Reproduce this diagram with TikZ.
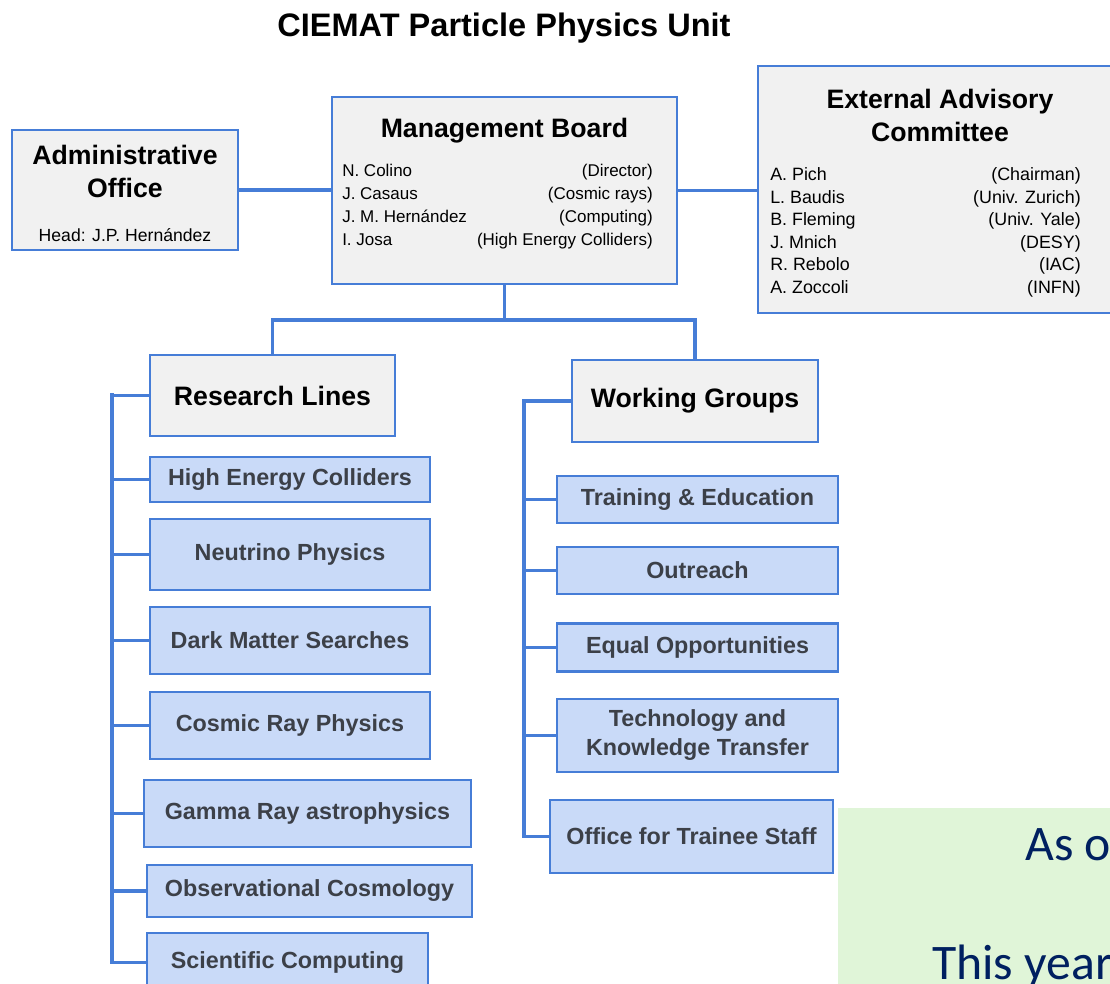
\documentclass[tikz,border=0pt]{standalone}
\usepackage{fontspec}
\setmainfont{Liberation Sans}
\newfontfamily\slidefont{Carlito}

\definecolor{orgblue}{RGB}{70,125,215}
\definecolor{boxgray}{RGB}{241,241,241}
\definecolor{unitblue}{RGB}{201,218,248}
\definecolor{unittext}{RGB}{60,64,72}
\definecolor{notegreen}{RGB}{224,245,216}
\definecolor{notetext}{RGB}{0,32,96}

\begin{document}
\begin{tikzpicture}[x=0.75pt, y=-0.75pt,
    boxsize/.style 2 args={minimum width=#1*0.75pt, minimum height=#2*0.75pt},
    panel/.style={draw=orgblue, line width=1.6pt, fill=boxgray, inner sep=0pt},
    unit/.style={draw=orgblue, line width=1.6pt, fill=unitblue, inner sep=0pt,
        text=unittext, align=center, font=\fontsize{17.5}{21.75}\selectfont\bfseries},
    heading/.style={align=center, font=\fontsize{20}{24.75}\selectfont\bfseries},
    member/.style={inner sep=0pt, font=\fontsize{12.75}{17}\selectfont},
    link/.style={draw=orgblue, line width=2.4pt}]
    \useasboundingbox (0,0) rectangle (1110,984);
    \clip (0,0) rectangle (1110,984);

    \node[font=\fontsize{24.4}{28}\selectfont\bfseries] (title) at (504,28) {CIEMAT Particle Physics Unit};

    % top row
    \node[panel, boxsize={226}{120}] (admin) at (125,190) {};
    \node[heading] (admintitle) at (125,171.5) {Administrative\\Office};
    \node[member, font=\fontsize{13.2}{17}\selectfont] (adminhead) at (125,235) {Head: J.P. Hernández};

    \node[panel, boxsize={345}{187}] (board) at (504.5,190.5) {};
    \node[heading] (boardtitle) at (504.5,130.5) {Management Board};
    \foreach \who/\role [count=\i] in {N. Colino/Director, J. Casaus/Cosmic rays,
        J. M. Hernández/Computing, I. Josa/High Energy Colliders} {
        \node[member, anchor=base west] (bname\i) at (342,{177+22.7*(\i-1)}) {\who};
        \node[member, anchor=base east] (brole\i) at (653,{177+22.7*(\i-1)}) {(\role)};
    }

    \node[panel, boxsize={370}{247}] (advisory) at (943,189.5) {};
    \node[heading] (advisorytitle) at (940,115.5) {External Advisory\\Committee};
    \foreach \who/\role [count=\i] in {A. Pich/Chairman, L. Baudis/Univ. Zurich,
        B. Fleming/Univ. Yale, J. Mnich/DESY, R. Rebolo/IAC, A. Zoccoli/INFN} {
        \node[member, font=\fontsize{13.4}{17}\selectfont, anchor=base west] (aname\i) at (770,{180.5+22.6*(\i-1)}) {\who};
        \node[member, font=\fontsize{13.4}{17}\selectfont, anchor=base east] (arole\i) at (1081,{180.5+22.6*(\i-1)}) {(\role)};
    }

    \draw[link] (admin.east) -- (admin.east -| board.west);
    \draw[link] (board.east) -- (board.east -| advisory.west);

    % second row
    \node[panel, heading, boxsize={245}{81}] (research) at (272.5,395.5) {Research Lines};
    \node[panel, heading, boxsize={246}{82}] (groups) at (695,401) {Working Groups};

    \coordinate (split) at (504.5,320);
    \draw[link] (board.south) -- (split);
    \draw[link] (split) -| (research.north);
    \draw[link] (split) -| (groups.north);

    % research lines
    \foreach \id/\txt/\cx/\cy/\w/\h in {
        hec/High Energy Colliders/290/479.5/280/45,
        neutrino/Neutrino Physics/290/554.5/280/71,
        dark/Dark Matter Searches/290/640.5/280/67,
        cosmic/Cosmic Ray Physics/290/725.5/280/67,
        gamma/Gamma Ray astrophysics/307.5/813.5/327/67,
        cosmology/Observational Cosmology/309.5/891/325/52,
        computing/Scientific Computing/287.5/962.5/281/59}
        \node[unit, boxsize={\w}{\h}] (\id) at (\cx,\cy) {\txt};

    \coordinate (rlspine) at (112,395.5);
    \draw[link] (research.west) -- (rlspine);
    \draw[link, line width=3.6pt, line cap=rect] (rlspine) -- (rlspine |- gamma.west);
    \draw[link] (rlspine |- gamma.west) -- (rlspine |- computing.west) -- (computing.west);
    \foreach \c in {hec,neutrino,dark,cosmic,gamma,cosmology}
        \draw[link] (rlspine |- \c.west) -- (\c.west);

    % working groups
    \foreach \id/\txt/\cx/\cy/\w/\h in {
        training/Training \& Education/697.5/499.5/281/47,
        outreach/Outreach/697.5/570.5/281/47,
        equal/Equal Opportunities/697.5/647.5/281/48,
        transfer/{Technology and\\Knowledge Transfer}/697.5/735.5/281/73,
        trainee/Office for Trainee Staff/691.5/836.5/283/73}
        \node[unit, boxsize={\w}{\h}] (\id) at (\cx,\cy) {\txt};

    \coordinate (wgspine) at (524,401);
    \draw[link] (groups.west) -- (wgspine) -- (wgspine |- trainee.west) -- (trainee.west);
    \foreach \c in {training,outreach,equal,transfer}
        \draw[link] (wgspine |- \c.west) -- (\c.west);

    % note
    \node[fill=notegreen, inner sep=0pt, anchor=north west, boxsize={290}{190}] (note) at (838,808) {};
    \node[inner sep=0pt, anchor=base west, text=notetext, font=\slidefont\fontsize{37.3}{44}\selectfont] (notefirst) at (1025,860) {As o};
    \node[inner sep=0pt, anchor=base west, text=notetext, font=\slidefont\fontsize{37.3}{44}\selectfont] (notesecond) at (932,979) {This year};
\end{tikzpicture}
\end{document}
